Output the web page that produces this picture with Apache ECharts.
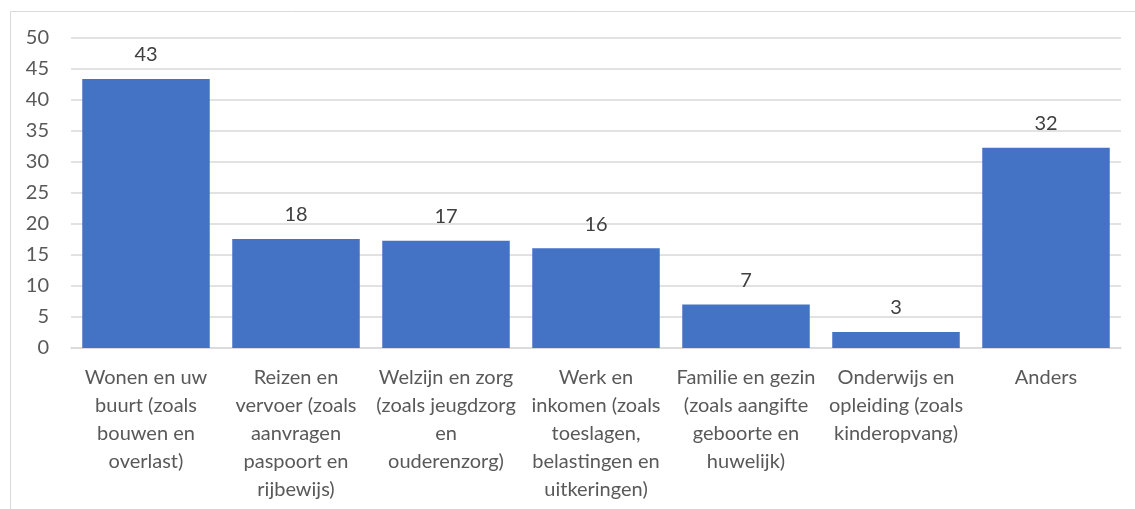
<!DOCTYPE html>
<html>
<head>
<meta charset="utf-8">
<script src="https://cdn.jsdelivr.net/npm/echarts@6/dist/echarts.min.js"></script>
<style>
  html, body { margin: 0; padding: 0; background: #fff; }
  #chart { width: 1135px; height: 509px; }
</style>
</head>
<body>
<div id="chart"></div>
<script>
var categories = [
  'Wonen en uw\nbuurt (zoals\nbouwen en\noverlast)',
  'Reizen en\nvervoer (zoals\naanvragen\npaspoort en\nrijbewijs)',
  'Welzijn en zorg\n(zoals jeugdzorg\nen\nouderenzorg)',
  'Werk en\ninkomen (zoals\ntoeslagen,\nbelastingen en\nuitkeringen)',
  'Familie en gezin\n(zoals aangifte\ngeboorte en\nhuwelijk)',
  'Onderwijs en\nopleiding (zoals\nkinderopvang)',
  'Anders'
];
var values = [43.4, 17.6, 17.3, 16.1, 7.0, 2.6, 32.3];
var yTicks = { min: 0, max: 50, interval: 5 };

var chart = echarts.init(document.getElementById('chart'));
var font = 'Lato, "Open Sans", sans-serif';

var option = {
  animation: false,
  graphic: [
    { type: 'line', shape: { x1: 10.5, y1: 11.5, x2: 1135, y2: 11.5 }, style: { stroke: '#d9d9d9', lineWidth: 1 } },
    { type: 'line', shape: { x1: 10.5, y1: 11.5, x2: 10.5, y2: 509 }, style: { stroke: '#d9d9d9', lineWidth: 1 } }
  ],
  grid: { left: 71, right: 14, top: 38, bottom: 161 },
  xAxis: {
    type: 'category',
    data: categories,
    axisTick: { show: false },
    axisLine: { lineStyle: { color: '#d9d9d9', width: 1.5 } },
    axisLabel: {
      interval: 0,
      color: '#595959',
      fontFamily: font,
      fontSize: 20,
      lineHeight: 28,
      margin: 16,
      verticalAlign: 'top'
    }
  },
  yAxis: {
    type: 'value',
    min: yTicks.min,
    max: yTicks.max,
    interval: yTicks.interval,
    axisLine: { show: false },
    axisTick: { show: false },
    splitLine: { lineStyle: { color: '#d9d9d9', width: 1.5 } },
    axisLabel: { color: '#595959', fontFamily: font, fontSize: 20, margin: 22 }
  },
  series: [{
    type: 'bar',
    data: values,
    barCategoryGap: '15%',
    itemStyle: { color: '#4472C4' },
    label: {
      show: true,
      position: 'top',
      distance: 14,
      color: '#404040',
      fontFamily: font,
      fontSize: 20,
      formatter: function (p) { return Math.round(p.value); }
    }
  }]
};

chart.setOption(option);
</script>
</body>
</html>
